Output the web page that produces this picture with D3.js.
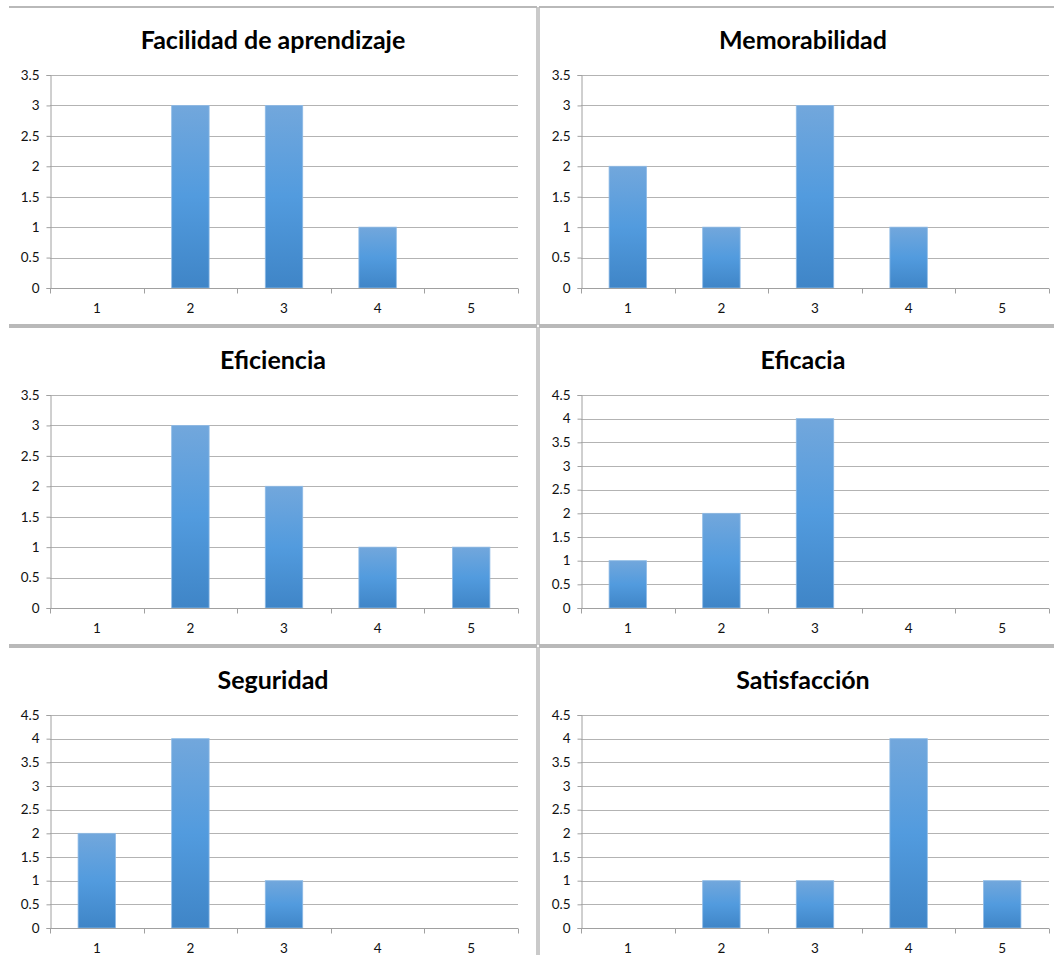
<!DOCTYPE html>
<html>
<head>
<meta charset="utf-8">
<script src="https://cdn.jsdelivr.net/npm/d3@7"></script>
<style>
  html, body { margin: 0; padding: 0; background: #fff; }
  svg { display: block; }
</style>
</head>
<body>
<svg id="chart" width="1054" height="955"></svg>
<script>
// Usability survey: number of answers for each score (1–5), per attribute
const categories = ["1", "2", "3", "4", "5"];

const titles = [
  "Facilidad de aprendizaje", "Memorabilidad",
  "Eficiencia", "Eficacia",
  "Seguridad", "Satisfacción"
];

const facilidad     = [0, 3, 3, 1, 0];
const memorabilidad = [2, 1, 3, 1, 0];
const eficiencia    = [0, 3, 2, 1, 1];
const eficacia      = [1, 2, 4, 0, 0];
const seguridad     = [2, 4, 1, 0, 0];
const satisfaccion  = [0, 1, 1, 4, 1];

const seriesList = [facilidad, memorabilidad, eficiencia, eficacia, seguridad, satisfaccion];
const axisMax = [3.5, 3.5, 3.5, 4.5, 4.5, 4.5];

const svg = d3.select("#chart");

// Vertical gradient used by every bar
const defs = svg.append("defs");
const grad = defs.append("linearGradient")
  .attr("id", "barFill").attr("x1", 0).attr("y1", 0).attr("x2", 0).attr("y2", 1);
grad.append("stop").attr("offset", "0%").attr("stop-color", "#72a7dc");
grad.append("stop").attr("offset", "50%").attr("stop-color", "#529bde");
grad.append("stop").attr("offset", "100%").attr("stop-color", "#3f85c7");

// Chart frames: two columns, three rows
const chartW = 528, chartH = 318;
const colX = [9, 539];
const rowY = [7, 327, 647];

const frameColor = "#b9b9b9";
const font = "Lato, 'Open Sans', sans-serif";

seriesList.forEach((values, i) => {
  const col = i % 2, row = Math.floor(i / 2);
  const x0 = colX[col], y0 = rowY[row];
  const g = svg.append("g").attr("transform", `translate(${x0},${y0})`);

  // frame edges (top, bottom, inner vertical divider)
  g.append("line").attr("x1", 0).attr("x2", chartW).attr("y1", 0).attr("y2", 0)
    .attr("stroke", frameColor).attr("stroke-width", 2);
  g.append("line").attr("x1", 0).attr("x2", chartW).attr("y1", chartH).attr("y2", chartH)
    .attr("stroke", frameColor).attr("stroke-width", 2);
  if (col === 0) {
    g.append("line").attr("x1", chartW).attr("x2", chartW).attr("y1", 0).attr("y2", chartH)
      .attr("stroke", frameColor).attr("stroke-width", 1.5);
  } else {
    g.append("line").attr("x1", 0).attr("x2", 0).attr("y1", 0).attr("y2", chartH)
      .attr("stroke", frameColor).attr("stroke-width", 1.5);
  }

  // plot area
  const px = col === 0 ? 41 : 42;
  const pTop = 68, pBottom = 281, pW = 468;

  const x = d3.scaleBand().domain(categories).range([px, px + pW]).paddingInner(0).paddingOuter(0);
  const y = d3.scaleLinear().domain([0, axisMax[i]]).range([pBottom, pTop]);
  const ticks = d3.range(0, axisMax[i] + 0.001, 0.5);

  // title
  g.append("text")
    .attr("x", chartW / 2).attr("y", 42)
    .attr("text-anchor", "middle")
    .attr("font-family", font)
    .attr("font-weight", "bold")
    .attr("font-size", 25)
    .attr("fill", "#000")
    .text(titles[i]);

  // gridlines
  g.append("g").selectAll("line").data(ticks.filter(t => t > 0)).join("line")
    .attr("x1", px).attr("x2", px + pW)
    .attr("y1", d => Math.round(y(d)) + 0.5).attr("y2", d => Math.round(y(d)) + 0.5)
    .attr("stroke", "#b3b3b3").attr("stroke-width", 1);

  // bars
  g.append("g").selectAll("rect").data(values).join("rect")
    .attr("x", (d, k) => x(categories[k]) + x.bandwidth() * 0.3)
    .attr("width", x.bandwidth() * 0.4)
    .attr("y", d => y(d))
    .attr("height", d => y(0) - y(d))
    .attr("fill", "url(#barFill)")
    .attr("stroke", d => d > 0 ? "#8fbbe6" : "none")
    .attr("stroke-width", 0.8);

  // y axis
  const yAxis = d3.axisLeft(y).tickValues(ticks).tickSize(4).tickPadding(7)
    .tickFormat(d => d3.format("~g")(d));
  const ya = g.append("g").attr("transform", `translate(${px + 0.5},0)`).call(yAxis);
  ya.select(".domain").attr("stroke", "#a0a0a0");
  ya.selectAll(".tick line").attr("stroke", "#a0a0a0");
  ya.selectAll(".tick text")
    .attr("font-family", font)
    .attr("font-size", 13.5).attr("fill", "#111");

  // x axis: boundary ticks between categories, labels at centres
  const xa = g.append("g").attr("transform", `translate(0,${Math.round(pBottom) + 0.5})`);
  xa.append("line").attr("x1", px).attr("x2", px + pW).attr("stroke", "#a0a0a0");
  const bounds = categories.map(c => x(c)).concat([px + pW]);
  xa.selectAll("line.b").data(bounds).join("line").attr("class", "b")
    .attr("x1", d => Math.round(d) + 0.5).attr("x2", d => Math.round(d) + 0.5)
    .attr("y1", 0).attr("y2", 5).attr("stroke", "#a0a0a0");
  xa.selectAll("text").data(categories).join("text")
    .attr("x", d => x(d) + x.bandwidth() / 2)
    .attr("y", 24)
    .attr("text-anchor", "middle")
    .attr("font-family", font)
    .attr("font-size", 13.5).attr("fill", "#111")
    .text(d => d);
});
</script>
</body>
</html>
